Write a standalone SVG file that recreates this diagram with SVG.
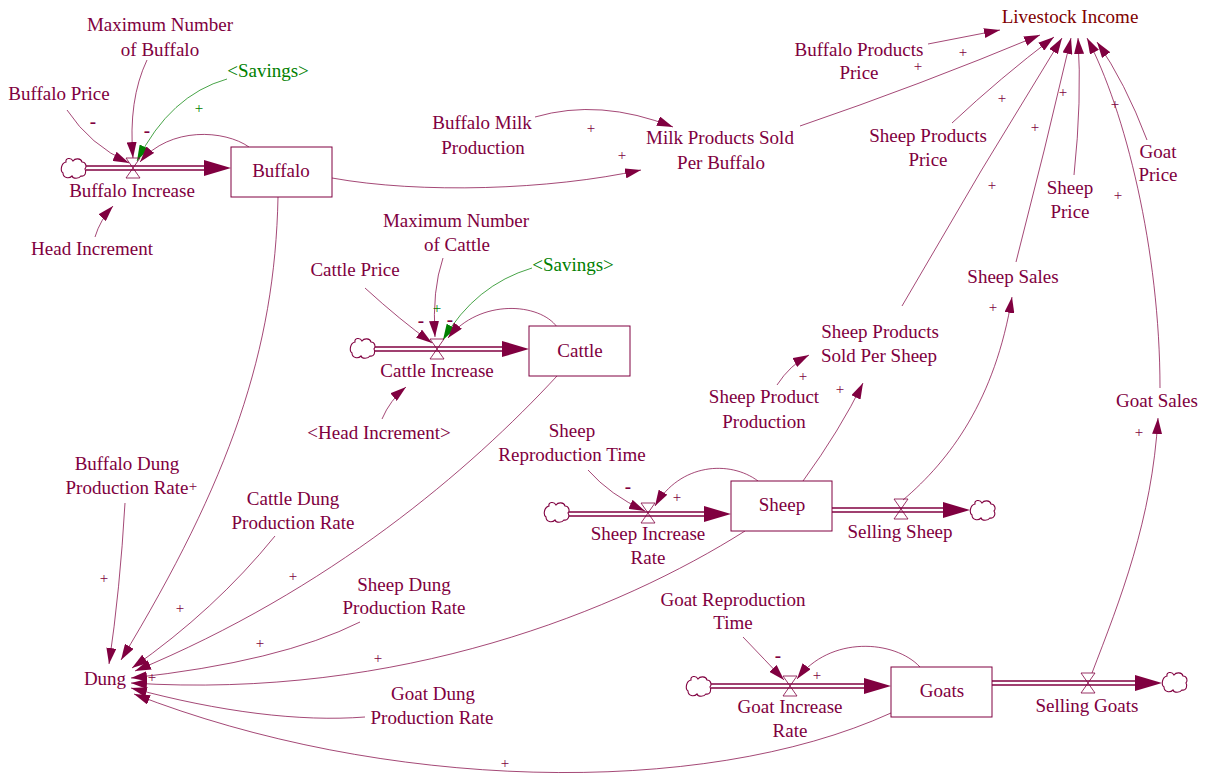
<svg xmlns="http://www.w3.org/2000/svg" width="1205" height="780" viewBox="0 0 1205 780">
<defs>
<style>
text{font-family:"Liberation Serif","Times New Roman",serif;font-size:19px;fill:#800040;text-anchor:middle}
.sv{fill:#008000}
.out{fill:#800000}
.pos{font-size:15px}
.neg{font-size:19px;font-weight:bold}
.lk{fill:none;stroke:#800040;stroke-opacity:0.8;stroke-width:0.9;marker-end:url(#ah)}
.lg{fill:none;stroke:#008000;stroke-opacity:0.8;stroke-width:0.9;marker-end:url(#ahg)}
.stock{fill:#fff;stroke:#800040;stroke-width:1}
.po{fill:none;stroke:#800040;stroke-width:5.5}
.pi{fill:none;stroke:#fff;stroke-width:2.6}
.valve{fill:none;stroke:#800040;stroke-width:0.8}
.cloud{fill:#fff;stroke:#800040;stroke-width:1.1}
.fh{fill:#800040}
</style>
<marker id="ah" viewBox="0 0 16 10" refX="16" refY="5" markerWidth="16" markerHeight="10" markerUnits="userSpaceOnUse" orient="auto"><path d="M0,0L16,5L0,10z" fill="#800040"/></marker>
<marker id="ahg" viewBox="0 0 16 10" refX="16" refY="5" markerWidth="16" markerHeight="10" markerUnits="userSpaceOnUse" orient="auto"><path d="M0,0L16,5L0,10z" fill="#008000"/></marker>
<path id="cloud" d="M-8,-6C-9,-10 -3,-11 -1,-7C1,-10 7,-10 8,-6C12,-6 13,-1 11,1C13,4 11,9 7,8C5,11 -1,11 -2,8C-5,11 -11,10 -11,5C-14,3 -13,-5 -8,-6Z"/>
<path id="valve" d="M-7,-10H7L0,0ZM0,0L7,10H-7Z"/>
<path id="fhead" d="M-27,-8L0,0L-27,8Z"/>
</defs>
<rect width="1205" height="780" fill="#fff"/>

<!-- connectors: causal links and material flows -->
<g id="connectors">
  <!-- buffalo inflow loop -->
  <path class="lk" d="M67,110Q90,145 129,163"/>
  <path class="lk" d="M147,60Q128,100 133,158"/>
  <path class="lg" d="M227,79Q170,95 137,161"/>
  <path class="lk" d="M249,147C225,130 170,126 140,162"/>
  <path class="lk" d="M95,237Q100,220 113,206"/>
  <!-- milk -->
  <path class="lk" d="M332,178C420,194 550,190 641,170"/>
  <path class="lk" d="M535,117Q600,98 673,127"/>
  <!-- livestock income -->
  <path class="lk" d="M928,44L1000,30"/>
  <path class="lk" d="M800,126Q920,85 1040,35"/>
  <path class="lk" d="M952,123Q1000,78 1054,37"/>
  <path class="lk" d="M902,306Q980,170 1062,38"/>
  <path class="lk" d="M1016,262Q1045,150 1071,38"/>
  <path class="lk" d="M1074,175Q1082,100 1078,38"/>
  <path class="lk" d="M1160,388C1160,250 1125,110 1087,38"/>
  <path class="lk" d="M1147,140Q1125,82 1097,42"/>
  <!-- cattle inflow loop -->
  <path class="lk" d="M365,288Q400,320 432,343"/>
  <path class="lk" d="M443,258Q432,290 435,337"/>
  <path class="lg" d="M532,268Q475,285 443,340"/>
  <path class="lk" d="M557,327C540,303 480,298 448,338"/>
  <path class="lk" d="M382,419Q390,400 406,387"/>
  <!-- sheep -->
  <path class="lk" d="M588,470Q610,495 645,511"/>
  <path class="lk" d="M758,481C730,460 680,463 655,506"/>
  <path class="lk" d="M777,385Q790,365 809,355"/>
  <path class="lk" d="M803,481Q840,430 863,383"/>
  <path class="lk" d="M903,500C950,460 995,400 1012,297"/>
  <!-- goats -->
  <path class="lk" d="M743,637Q765,660 784,680"/>
  <path class="lk" d="M920,667C895,640 830,635 797,679"/>
  <path class="lk" d="M1092,673C1120,600 1152,520 1158,418"/>
  <!-- dung -->
  <path class="lk" d="M125,503Q120,590 109,664"/>
  <path class="lk" d="M278,197C275,350 230,480 121,660"/>
  <path class="lk" d="M275,536Q215,610 132,668"/>
  <path class="lk" d="M557,376C470,470 330,590 135,671"/>
  <path class="lk" d="M360,622Q280,662 131,678"/>
  <path class="lk" d="M745,531C620,610 400,700 131,683"/>
  <path class="lk" d="M365,717C300,722 220,712 131,688"/>
  <path class="lk" d="M891,713C700,800 380,790 134,694"/>

  <!-- flow pipes -->
  <g id="pipes">
    <path class="po" d="M86,168H220"/><path class="pi" d="M86,168H204"/><use href="#fhead" class="fh" x="231" y="168"/>
    <path class="po" d="M375,349H518"/><path class="pi" d="M375,349H502"/><use href="#fhead" class="fh" x="529" y="349"/>
    <path class="po" d="M569,514H720"/><path class="pi" d="M569,514H704"/><use href="#fhead" class="fh" x="731" y="514"/>
    <path class="po" d="M832,510H960"/><path class="pi" d="M832,510H943"/><use href="#fhead" class="fh" x="970" y="510"/>
    <path class="po" d="M711,686H880"/><path class="pi" d="M711,686H864"/><use href="#fhead" class="fh" x="891" y="686"/>
    <path class="po" d="M992,683H1150"/><path class="pi" d="M992,683H1135"/><use href="#fhead" class="fh" x="1162" y="683"/>
  </g>

  <!-- polarity marks -->
  <g id="polarity">
    <text class="neg" x="93" y="128">-</text>
    <text class="neg" x="147" y="137">-</text>
    <text class="pos sv" x="199" y="113">+</text>
    <text class="pos" x="591" y="133">+</text>
    <text class="pos" x="622" y="160">+</text>
    <text class="pos" x="918" y="71">+</text>
    <text class="pos" x="963" y="57">+</text>
    <text class="pos" x="1002" y="103">+</text>
    <text class="pos" x="1035" y="132">+</text>
    <text class="pos" x="992" y="190">+</text>
    <text class="pos" x="1063" y="97">+</text>
    <text class="pos" x="1115" y="109">+</text>
    <text class="pos" x="1118" y="200">+</text>
    <text class="neg" x="421" y="327">-</text>
    <text class="pos sv" x="437" y="313">+</text>
    <text class="neg" x="450" y="326">-</text>
    <text class="pos" x="803" y="381">+</text>
    <text class="pos" x="840" y="394">+</text>
    <text class="pos" x="993" y="312">+</text>
    <text class="pos" x="1139" y="437">+</text>
    <text class="neg" x="628" y="493">-</text>
    <text class="pos" x="677" y="502">+</text>
    <text class="neg" x="778" y="662">-</text>
    <text class="pos" x="817" y="680">+</text>
    <text class="pos" x="193" y="491">+</text>
    <text class="pos" x="104" y="583">+</text>
    <text class="pos" x="180" y="613">+</text>
    <text class="pos" x="293" y="581">+</text>
    <text class="pos" x="260" y="648">+</text>
    <text class="pos" x="378" y="663">+</text>
    <text class="pos" x="152" y="682">+</text>
    <text class="pos" x="505" y="768">+</text>
  </g>
</g>

<!-- stocks -->
<g id="buffalo"><rect class="stock" x="231" y="147" width="101" height="50"/><text x="281" y="177">Buffalo</text></g>
<g id="cattle"><rect class="stock" x="529" y="326" width="101" height="50"/><text x="580" y="357">Cattle</text></g>
<g id="sheep"><rect class="stock" x="731" y="481" width="101" height="50"/><text x="782" y="511">Sheep</text></g>
<g id="goats"><rect class="stock" x="891" y="667" width="101" height="50"/><text x="942" y="697">Goats</text></g>

<!-- sources and sinks -->
<g id="clouds">
  <use href="#cloud" class="cloud" x="74" y="168"/>
  <use href="#cloud" class="cloud" x="363" y="348"/>
  <use href="#cloud" class="cloud" x="557" y="512"/>
  <use href="#cloud" class="cloud" x="983" y="510"/>
  <use href="#cloud" class="cloud" x="699" y="686"/>
  <use href="#cloud" class="cloud" x="1175" y="682"/>
</g>

<!-- flows -->
<g id="buffalo_increase"><use href="#valve" class="valve" x="133" y="168"/><text x="132" y="197">Buffalo Increase</text></g>
<g id="cattle_increase"><use href="#valve" class="valve" x="437" y="349"/><text x="437" y="377">Cattle Increase</text></g>
<g id="sheep_increase_rate"><use href="#valve" class="valve" x="648" y="513"/><text x="648" y="540">Sheep Increase<tspan x="648" dy="24">Rate</tspan></text></g>
<g id="selling_sheep"><use href="#valve" class="valve" x="901" y="509"/><text x="900" y="538">Selling Sheep</text></g>
<g id="goat_increase_rate"><use href="#valve" class="valve" x="790" y="686"/><text x="790" y="713">Goat Increase<tspan x="790" dy="24">Rate</tspan></text></g>
<g id="selling_goats"><use href="#valve" class="valve" x="1088" y="683"/><text x="1087" y="712">Selling Goats</text></g>

<!-- auxiliaries -->
<g id="buffalo_price"><text x="59" y="100">Buffalo Price</text></g>
<g id="max_buffalo"><text x="160" y="31">Maximum Number<tspan x="160" dy="25">of Buffalo</tspan></text></g>
<g id="savings_1"><text class="sv" x="268" y="77">&lt;Savings&gt;</text></g>
<g id="head_increment"><text x="92" y="255">Head Increment</text></g>
<g id="buffalo_milk_production"><text x="482" y="129">Buffalo Milk<tspan x="483" dy="25">Production</tspan></text></g>
<g id="milk_products_sold"><text x="720" y="144">Milk Products Sold<tspan x="721" dy="25">Per Buffalo</tspan></text></g>
<g id="livestock_income"><text class="out" x="1070" y="23">Livestock Income</text></g>
<g id="buffalo_products_price"><text x="859" y="56">Buffalo Products<tspan x="859" dy="23">Price</tspan></text></g>
<g id="sheep_products_price"><text x="928" y="142">Sheep Products<tspan x="928" dy="24">Price</tspan></text></g>
<g id="sheep_price"><text x="1070" y="194">Sheep<tspan x="1070" dy="24">Price</tspan></text></g>
<g id="goat_price"><text x="1158" y="158">Goat<tspan x="1158" dy="23">Price</tspan></text></g>
<g id="max_cattle"><text x="456" y="227">Maximum Number<tspan x="457" dy="24">of Cattle</tspan></text></g>
<g id="cattle_price"><text x="355" y="276">Cattle Price</text></g>
<g id="savings_2"><text class="sv" x="573" y="271">&lt;Savings&gt;</text></g>
<g id="head_increment_2"><text x="379" y="439">&lt;Head Increment&gt;</text></g>
<g id="sheep_products_sold"><text x="880" y="338">Sheep Products<tspan x="879" dy="24">Sold Per Sheep</tspan></text></g>
<g id="sheep_sales"><text x="1013" y="283">Sheep Sales</text></g>
<g id="sheep_product_production"><text x="764" y="403">Sheep Product<tspan x="764" dy="25">Production</tspan></text></g>
<g id="sheep_reproduction_time"><text x="572" y="437">Sheep<tspan x="572" dy="24">Reproduction Time</tspan></text></g>
<g id="goat_sales"><text x="1157" y="407">Goat Sales</text></g>
<g id="goat_reproduction_time"><text x="733" y="606">Goat Reproduction<tspan x="733" dy="23">Time</tspan></text></g>
<g id="buffalo_dung_rate"><text x="127" y="470">Buffalo Dung<tspan x="127" dy="24">Production Rate</tspan></text></g>
<g id="cattle_dung_rate"><text x="293" y="505">Cattle Dung<tspan x="293" dy="24">Production Rate</tspan></text></g>
<g id="sheep_dung_rate"><text x="404" y="591">Sheep Dung<tspan x="404" dy="23">Production Rate</tspan></text></g>
<g id="goat_dung_rate"><text x="433" y="700">Goat Dung<tspan x="432" dy="24">Production Rate</tspan></text></g>
<g id="dung"><text x="105" y="685">Dung</text></g>
</svg>
